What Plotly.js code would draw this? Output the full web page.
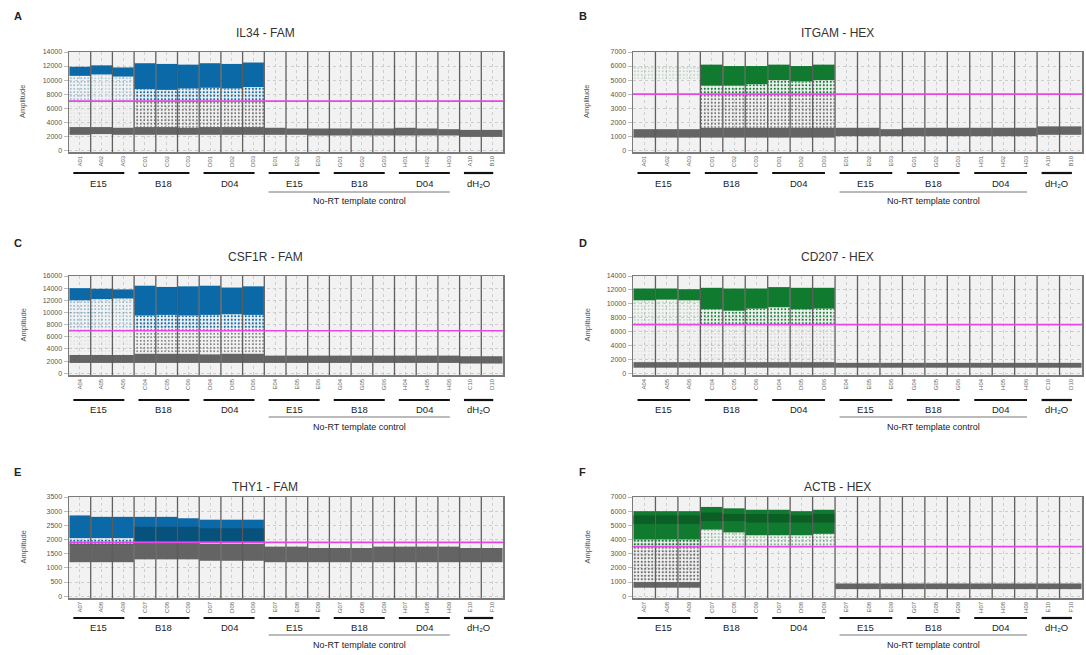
<!DOCTYPE html>
<html><head><meta charset="utf-8">
<script src="https://cdn.plot.ly/plotly-3.0.1.min.js"></script>
<style>html,body{margin:0;padding:0;background:#fff}#plot{width:1086px;height:655px}</style>
</head><body><div id="plot"></div>
<script>
// ---------- DATA ----------
const groupNames = ['E15','B18','D04','E15','B18','D04','dH₂O'];
const groupStart = [0,3,6,9,12,15,18];
const groupEnd   = [2,5,8,11,14,17,19];
const ntcLabel = 'No-RT template control';

const wells1 = ['A01','A02','A03','C01','C02','C03','D01','D02','D03','E01','E02','E03','G01','G02','G03','H01','H02','H03','A10','B10'];
const wells2 = ['A04','A05','A06','C04','C05','C06','D04','D05','D06','E04','E05','E06','G04','G05','G06','H04','H05','H06','C10','D10'];
const wells3 = ['A07','A08','A09','C07','C08','C09','D07','D08','D09','E07','E08','E09','G07','G08','G09','H07','H08','H09','E10','F10'];

const titles = ['IL34 - FAM','ITGAM - HEX','CSF1R - FAM','CD207 - HEX','THY1 - FAM','ACTB - HEX'];
const letters = ['A','B','C','D','E','F'];
const yMax = [14000,7000,16000,14000,3500,7000];
const yStep = [2000,1000,2000,2000,500,1000];
const thresholds = [7000,4000,7000,7000,1900,3500];

// Panel A  IL34 - FAM
const posHiA = [11900,12100,11800,12400,12300,12200,12400,12300,12500];
const posLoA = [10600,10800,10500,8700,8600,8800,8900,8800,9000];
const posRainLoA = [7000,7000,7000,7000,7000,7000,7000,7000,7000];
const posRainHiA = [10600,10800,10500,8700,8600,8800,8900,8800,9000];
const posRainDenA = [0.1,0.07,0.08,0.28,0.28,0.28,0.28,0.28,0.28];
const negRainHiA = [7000,7000,7000,7000,7000,7000,7000,7000,7000];
const negRainDenA = [0.04,0.04,0.04,0.25,0.25,0.25,0.25,0.25,0.25];
const negHiA = [3300,3300,3200,3300,3300,3200,3300,3300,3300,3200,3100,3100,3100,3100,3100,3200,3100,3000,2900,2900];
const negLoA = [2200,2300,2200,2200,2200,2200,2200,2200,2200,2200,2200,2100,2100,2100,2100,2100,2100,2100,1900,1900];

// Panel B  ITGAM - HEX
const posHiB = [null,null,null,6100,6000,6000,6100,6000,6100];
const posLoB = [null,null,null,4600,4600,4700,5000,4900,5000];
const posRainLoB = [5100,5100,5100,4000,4000,4000,4000,4000,4000];
const posRainHiB = [6000,6000,6000,4600,4600,4700,5000,4900,5000];
const posRainDenB = [0.06,0.06,0.06,0.28,0.28,0.28,0.28,0.28,0.28];
const negRainHiB = [null,null,null,4000,4000,4000,4000,4000,4000];
const negRainDenB = [0,0,0,0.25,0.25,0.25,0.25,0.25,0.25];
const negHiB = [1500,1500,1500,1600,1600,1600,1600,1600,1600,1600,1600,1500,1600,1600,1600,1600,1600,1600,1700,1700];
const negLoB = [900,900,900,900,900,900,900,900,900,1000,1000,1000,1000,1000,1000,1000,1000,1000,1100,1100];

// Panel C  CSF1R - FAM
const posHiC = [14000,13900,13800,14400,14200,14300,14400,14100,14300];
const posLoC = [12000,12200,12300,9500,9600,9500,9600,9700,9600];
const posRainLoC = [7000,7000,7000,7000,7000,7000,7000,7000,7000];
const posRainHiC = [12000,12200,12300,9500,9600,9500,9600,9700,9600];
const posRainDenC = [0.12,0.1,0.08,0.28,0.28,0.28,0.28,0.28,0.28];
const negRainHiC = [7000,7000,7000,7000,7000,7000,7000,7000,7000];
const negRainDenC = [0.04,0.04,0.04,0.22,0.22,0.22,0.22,0.22,0.22];
const negHiC = [3000,3000,3000,3200,3200,3200,3100,3200,3200,2900,2900,2900,2900,2900,2900,2900,2900,2900,2800,2800];
const negLoC = [1700,1700,1700,1700,1700,1700,1700,1700,1700,1700,1700,1700,1700,1700,1700,1700,1700,1700,1600,1600];

// Panel D  CD207 - HEX
const posHiD = [12200,12200,12100,12300,12200,12200,12400,12300,12300];
const posLoD = [10500,10600,10500,9200,9000,9300,9500,9200,9300];
const posRainLoD = [7000,7000,7000,7000,7000,7000,7000,7000,7000];
const posRainHiD = [10500,10600,10500,9200,9000,9300,9500,9200,9300];
const posRainDenD = [0.07,0.07,0.07,0.25,0.25,0.25,0.25,0.25,0.25];
const negRainHiD = [7000,7000,7000,7000,7000,7000,7000,7000,7000];
const negRainDenD = [0.03,0.03,0.03,0.05,0.05,0.05,0.05,0.05,0.05];
const negHiD = [1600,1600,1600,1600,1600,1600,1600,1600,1600,1500,1500,1500,1500,1500,1500,1500,1500,1500,1500,1500];
const negLoD = [800,800,800,800,800,800,800,800,800,800,800,800,800,800,800,800,800,800,800,800];

// Panel E  THY1 - FAM
const posHiE = [2850,2800,2800,2800,2800,2750,2700,2700,2700];
const posLoE = [2050,2050,2050,1900,1900,1900,1900,1900,1900];
const posCoreHiE = [null,null,null,2450,2450,2450,2400,2400,2400];
const posCoreLoE = [null,null,null,1950,1950,1950,1950,1950,1950];
const posRainLoE = [1800,1800,1800,null,null,null,null,null,null];
const posRainHiE = [2050,2050,2050,null,null,null,null,null,null];
const posRainDenE = [0.3,0.3,0.3,0,0,0,0,0,0];
const negRainHiE = [];
const negRainDenE = [];
const negHiE = [1850,1850,1850,1900,1900,1900,1850,1850,1850,1750,1750,1700,1700,1700,1750,1750,1750,1750,1700,1700];
const negLoE = [1200,1200,1200,1300,1300,1300,1250,1250,1250,1200,1200,1200,1200,1200,1200,1200,1200,1200,1200,1200];

// Panel F  ACTB - HEX
const posHiF = [6000,6000,6000,6300,6200,6100,6100,6000,6100];
const posLoF = [4000,4000,4000,4700,4500,4300,4300,4300,4400];
const posCoreHiF = [5700,5700,5700,5900,5800,5800,5800,5700,5800];
const posCoreLoF = [5100,5100,5100,5300,5300,5200,5200,5200,5200];
const posRainLoF = [3500,3500,3500,3500,3500,3500,3500,3500,3500];
const posRainHiF = [4000,4000,4000,4700,4500,4300,4300,4300,4400];
const posRainDenF = [0.35,0.35,0.35,0.1,0.1,0.1,0.15,0.15,0.15];
const negRainHiF = [3500,3500,3500,null,null,null,3500,3500,3500];
const negRainDenF = [0.32,0.32,0.32,0,0,0,0.03,0.03,0.03];
const negHiF = [1000,1000,1000,null,null,null,null,null,null,900,900,900,900,900,900,900,900,900,900,900];
const negLoF = [600,600,600,null,null,null,null,null,null,500,500,500,500,500,500,500,500,500,500,500];

// ---------- BUILD ----------
const FAM = '#0b69a8', HEX = '#107a2f', NEG = '#5c5c5c', RAIN = '#6f6f6f';
const FAMCORE = '#07496f', HEXCORE = '#0a5522';
const panels = [
  {w:wells1,pH:posHiA,pL:posLoA,rL:posRainLoA,rH:posRainHiA,rD:posRainDenA,nrH:negRainHiA,nrD:negRainDenA,nH:negHiA,nL:negLoA,c:FAM},
  {w:wells1,pH:posHiB,pL:posLoB,rL:posRainLoB,rH:posRainHiB,rD:posRainDenB,nrH:negRainHiB,nrD:negRainDenB,nH:negHiB,nL:negLoB,c:HEX},
  {w:wells2,pH:posHiC,pL:posLoC,rL:posRainLoC,rH:posRainHiC,rD:posRainDenC,nrH:negRainHiC,nrD:negRainDenC,nH:negHiC,nL:negLoC,c:FAM},
  {w:wells2,pH:posHiD,pL:posLoD,rL:posRainLoD,rH:posRainHiD,rD:posRainDenD,nrH:negRainHiD,nrD:negRainDenD,nH:negHiD,nL:negLoD,c:HEX},
  {w:wells3,pH:posHiE,pL:posLoE,rL:posRainLoE,rH:posRainHiE,rD:posRainDenE,nrH:negRainHiE,nrD:negRainDenE,nH:negHiE,nL:negLoE,c:FAM,cH:posCoreHiE,cL:posCoreLoE,cc:FAMCORE},
  {w:wells3,pH:posHiF,pL:posLoF,rL:posRainLoF,rH:posRainHiF,rD:posRainDenF,nrH:negRainHiF,nrD:negRainDenF,nH:negHiF,nL:negLoF,c:HEX,cH:posCoreHiF,cL:posCoreLoF,cc:HEXCORE}
];

const W = 1086, H = 655;
const colL = [[69,503],[633,1082]];
const rowTB = [[52,152],[276,375],[497,598]];
const rowGroupBar = [173,400,618], rowGroupTxt = [183,409,627], rowNtcLine = [192,417,635], rowNtcTxt = [201,427,645];
const titleX = [265,837], titleY = [33,257,487];
const letterX = [12,577], letterY = [16,243,472];
const px = v => v / W, py = v => 1 - v / H;
const FONT = 'Liberation Sans, Arial, sans-serif';

const traces = [], shapes = [], annotations = [];
const layout = {
  width: W, height: H, margin: {l:0,r:0,t:0,b:0},
  paper_bgcolor: '#fff', plot_bgcolor: '#f2f2f2',
  showlegend: false, barmode: 'overlay', bargap: 0.04,
  font: {family: FONT, color: '#444'}, hovermode: false
};

const diff = (hi, lo) => hi.map((h, i) => (h == null || lo[i] == null) ? null : h - lo[i]);

panels.forEach((p, k) => {
  const n = k + 1, sfx = n > 1 ? String(n) : '';
  const xa = 'x' + sfx, ya = 'y' + sfx;
  const col = k % 2, row = Math.floor(k / 2);
  const [l, r] = colL[col], [t, b] = rowTB[row];
  const pad = yMax[k] * 0.018;

  layout['xaxis' + sfx] = {
    domain: [px(l), px(r)], anchor: ya, type: 'category', categoryorder: 'array', categoryarray: p.w,
    tickangle: -90, tickfont: {size: 6, color: '#666', family: FONT}, ticks: '', ticklen: 0,
    showgrid: true, gridcolor: '#cfcfcf', griddash: 'dot', gridwidth: 1,
    showline: true, mirror: true, linecolor: '#7a7a7a', linewidth: 1.5, zeroline: false, fixedrange: true
  };
  layout['yaxis' + sfx] = {
    domain: [py(b), py(t)], anchor: xa, range: [-pad, yMax[k]], dtick: yStep[k], tick0: 0,
    tickformat: 'd', exponentformat: 'none',
    tickfont: {size: 7, color: '#555', family: FONT}, ticks: 'outside', ticklen: 4, tickcolor: '#bbb',
    showgrid: true, gridcolor: '#cdcdcd', griddash: 'dot', gridwidth: 1,
    showline: true, mirror: true, linecolor: '#7a7a7a', linewidth: 1.5, zeroline: false, fixedrange: true
  };

  // negative rain (sparse grey droplets)
  if (p.nrH.length) traces.push({type:'bar', xaxis:xa, yaxis:ya, x:p.w.slice(0,p.nrH.length),
    base:p.nH.slice(0,p.nrH.length), y:diff(p.nrH, p.nH),
    marker:{color:'rgba(0,0,0,0)', line:{width:0}, pattern:{shape:'.', fgcolor:RAIN, bgcolor:'rgba(0,0,0,0)', size:3.5, solidity:p.nrD}}});
  // positive rain (sparse coloured droplets)
  traces.push({type:'bar', xaxis:xa, yaxis:ya, x:p.w.slice(0,p.rL.length), base:p.rL, y:diff(p.rH, p.rL),
    marker:{color:'rgba(0,0,0,0)', line:{width:0}, pattern:{shape:'.', fgcolor:p.c, bgcolor:'rgba(0,0,0,0)', size:3.5, solidity:p.rD}}});
  // negative cluster
  traces.push({type:'bar', xaxis:xa, yaxis:ya, x:p.w, base:p.nL, y:diff(p.nH, p.nL),
    marker:{color:NEG, opacity:0.95, line:{width:0}}});
  // positive cluster
  traces.push({type:'bar', xaxis:xa, yaxis:ya, x:p.w.slice(0,p.pH.length), base:p.pL, y:diff(p.pH, p.pL),
    marker:{color:p.c, line:{width:0}}});
  // dense core of the positive cluster
  if (p.cH) traces.push({type:'bar', xaxis:xa, yaxis:ya, x:p.w.slice(0,p.cH.length), base:p.cL, y:diff(p.cH, p.cL),
    marker:{color:p.cc, opacity:0.75, line:{width:0}}});

  // well separators
  for (let i = 0; i < p.w.length - 1; i++) {
    shapes.push({type:'line', xref:xa, yref:ya+' domain', x0:i+0.5, x1:i+0.5, y0:0, y1:1,
      line:{color:'rgba(70,70,70,0.85)', width:1.3}, layer:'above'});
  }
  // threshold
  shapes.push({type:'line', xref:xa+' domain', yref:ya, x0:0, x1:1, y0:thresholds[k], y1:thresholds[k],
    line:{color:'#e845e8', width:1.6}, layer:'above'});

  // group bars + labels
  groupNames.forEach((g, gi) => {
    const x0 = groupStart[gi] - 0.3, x1 = groupEnd[gi] + 0.05;
    shapes.push({type:'line', xref:xa, yref:'paper', x0:x0, x1:x1, y0:py(rowGroupBar[row]), y1:py(rowGroupBar[row]),
      line:{color:'#111', width:2.2}});
    annotations.push({xref:xa, yref:'paper', x:(x0 + x1) / 2, y:py(rowGroupTxt[row]), text:g, showarrow:false,
      font:{size:9.5, color:'#222', family:FONT}, xanchor:'center', yanchor:'middle'});
  });
  const n0 = groupStart[3] - 0.3, n1 = groupEnd[5] + 0.05;
  shapes.push({type:'line', xref:xa, yref:'paper', x0:n0, x1:n1, y0:py(rowNtcLine[row]), y1:py(rowNtcLine[row]),
    line:{color:'#777', width:1}});
  annotations.push({xref:xa, yref:'paper', x:(n0 + n1) / 2, y:py(rowNtcTxt[row]), text:ntcLabel, showarrow:false,
    font:{size:9, color:'#222', family:FONT}, xanchor:'center', yanchor:'middle'});

  // title, letter, y-axis title
  annotations.push({xref:'paper', yref:'paper', x:px(titleX[col]), y:py(titleY[row]), text:titles[k], showarrow:false,
    font:{size:12, color:'#333', family:FONT}, xanchor:'center', yanchor:'middle'});
  annotations.push({xref:'paper', yref:'paper', x:px(letterX[col]), y:py(letterY[row]), text:'<b>' + letters[k] + '</b>', showarrow:false,
    font:{size:11, color:'#222', family:FONT}, xanchor:'left', yanchor:'middle'});
  annotations.push({xref:'paper', yref:'paper', x:px(l - 46), y:py((t + b) / 2), text:'Amplitude', textangle:-90, showarrow:false,
    font:{size:7.5, color:'#555', family:FONT}, xanchor:'center', yanchor:'middle'});
});

layout.shapes = shapes;
layout.annotations = annotations;
Plotly.newPlot('plot', traces, layout, {staticPlot:true, displayModeBar:false});
</script>
</body></html>
